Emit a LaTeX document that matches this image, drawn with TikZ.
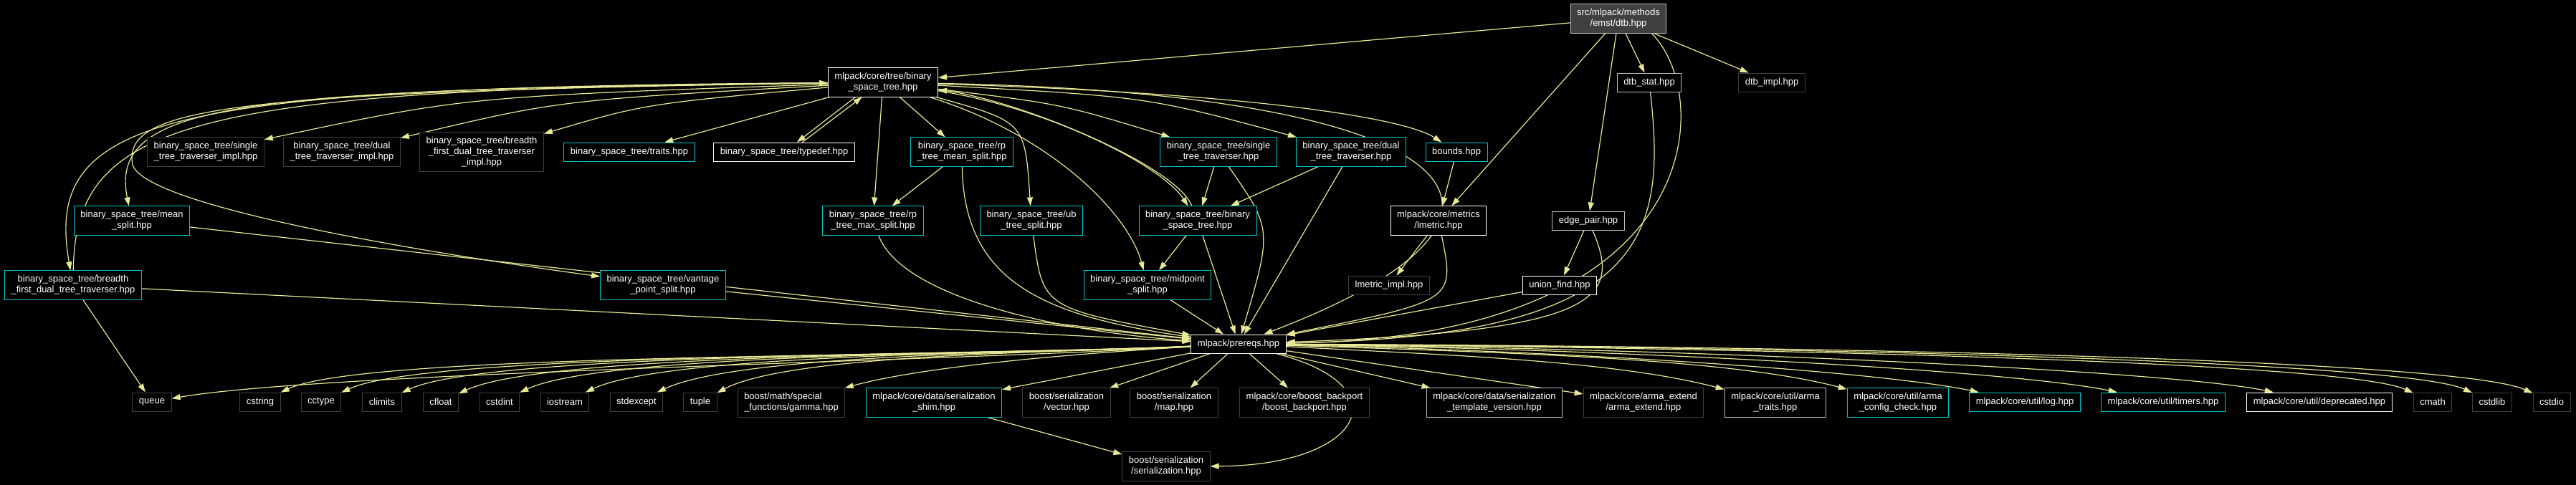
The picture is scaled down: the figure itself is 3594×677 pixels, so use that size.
\documentclass[tikz,border=0pt]{standalone}
\usepackage{fontspec}
\setmainfont{Liberation Sans}
\usetikzlibrary{arrows.meta}
\definecolor{edgecol}{RGB}{232,232,150}
\definecolor{doccol}{RGB}{0,200,200}
\definecolor{midgray}{RGB}{190,190,190}
\definecolor{dimgray}{RGB}{64,64,64}
\definecolor{rootfill}{RGB}{64,64,64}
\pgfdeclarelayer{bg}
\pgfsetlayers{bg,main}
\begin{document}
\begin{tikzpicture}[x=1pt,y=1pt,
  file/.style={fill=black, text=white, line width=1pt, inner xsep=9pt, inner ysep=6.5pt,
    minimum height=26pt, align=center, font=\fontsize{13}{15}\selectfont},
  cbox/.style={file, draw=doccol},
  wbox/.style={file, draw=white},
  gbox/.style={file, draw=midgray},
  xbox/.style={file, draw=dimgray},
  dep/.style={draw=edgecol, line width=1.2pt, -{Triangle[length=12pt,width=8pt]}}]
  \useasboundingbox (0,0) rectangle (3594,-677);

  \node[gbox, fill=rootfill] (dtb) at (2258,-26) {src/mlpack/methods\\/emst/dtb.hpp};
  \node[wbox] (bst) at (1232,-115) {mlpack/core/tree/binary\\\_space\_tree.hpp};
  \node[gbox] (dtbstat) at (2301,-115) {dtb\_stat.hpp};
  \node[xbox] (dtbimpl) at (2472,-115) {dtb\_impl.hpp};

  \node[xbox] (stimpl) at (287,-212) {binary\_space\_tree/single\\\_tree\_traverser\_impl.hpp};
  \node[xbox] (dtimpl) at (477,-212) {binary\_space\_tree/dual\\\_tree\_traverser\_impl.hpp};
  \node[xbox] (bfimpl) at (672,-212) {binary\_space\_tree/breadth\\\_first\_dual\_tree\_traverser\\\_impl.hpp};
  \node[cbox] (traits) at (878,-212) {binary\_space\_tree/traits.hpp};
  \node[wbox] (typedef) at (1094,-212) {binary\_space\_tree/typedef.hpp};
  \node[cbox] (rpmean) at (1342,-212) {binary\_space\_tree/rp\\\_tree\_mean\_split.hpp};
  \node[cbox] (stt) at (1700,-212) {binary\_space\_tree/single\\\_tree\_traverser.hpp};
  \node[cbox] (dtt) at (1885,-212) {binary\_space\_tree/dual\\\_tree\_traverser.hpp};
  \node[cbox] (bounds) at (2032,-212) {bounds.hpp};

  \node[cbox] (meansplit) at (184,-308) {binary\_space\_tree/mean\\\_split.hpp};
  \node[cbox] (rpmax) at (1218,-308) {binary\_space\_tree/rp\\\_tree\_max\_split.hpp};
  \node[cbox] (ubsplit) at (1439,-308) {binary\_space\_tree/ub\\\_tree\_split.hpp};
  \node[cbox] (bstimpl) at (1671,-308) {binary\_space\_tree/binary\\\_space\_tree.hpp};
  \node[wbox] (lmetric) at (2007,-308) {mlpack/core/metrics\\/lmetric.hpp};
  \node[gbox] (edgepair) at (2216,-308) {edge\_pair.hpp};

  \node[cbox] (bfdtt) at (102,-398) {binary\_space\_tree/breadth\\\_first\_dual\_tree\_traverser.hpp};
  \node[cbox] (vantage) at (925,-398) {binary\_space\_tree/vantage\\\_point\_split.hpp};
  \node[cbox] (midpoint) at (1601,-398) {binary\_space\_tree/midpoint\\\_split.hpp};
  \node[xbox] (lmimpl) at (1938,-398) {lmetric\_impl.hpp};
  \node[wbox] (unionfind) at (2176,-398) {union\_find.hpp};

  \node[wbox] (prereqs) at (1728,-480) {mlpack/prereqs.hpp};

  \node[xbox] (queue) at (212,-561) {queue};
  \node[xbox] (cstring) at (363,-561) {cstring};
  \node[xbox] (cctype) at (448,-561) {cctype};
  \node[xbox] (climits) at (533,-561) {climits};
  \node[xbox] (cfloat) at (615,-561) {cfloat};
  \node[xbox] (cstdint) at (697,-561) {cstdint};
  \node[xbox] (iostream) at (788,-561) {iostream};
  \node[xbox] (stdexcept) at (888,-561) {stdexcept};
  \node[xbox] (tuple) at (977,-561) {tuple};
  \node[xbox, align=left] (gamma) at (1104,-562) {boost/math/special\\\_functions/gamma.hpp};
  \node[cbox] (shim) at (1303,-562) {mlpack/core/data/serialization\\\_shim.hpp};
  \node[xbox] (vector) at (1488,-562) {boost/serialization\\/vector.hpp};
  \node[xbox] (map) at (1638,-562) {boost/serialization\\/map.hpp};
  \node[xbox] (backport) at (1820,-562) {mlpack/core/boost\_backport\\/boost\_backport.hpp};
  \node[gbox] (tmplver) at (2085,-562) {mlpack/core/data/serialization\\\_template\_version.hpp};
  \node[xbox] (armaext) at (2293,-562) {mlpack/core/arma\_extend\\/arma\_extend.hpp};
  \node[gbox] (armatraits) at (2477,-562) {mlpack/core/util/arma\\\_traits.hpp};
  \node[cbox] (armacfg) at (2648,-562) {mlpack/core/util/arma\\\_config\_check.hpp};
  \node[cbox] (logh) at (2825,-561) {mlpack/core/util/log.hpp};
  \node[cbox] (timersh) at (3018,-561) {mlpack/core/util/timers.hpp};
  \node[wbox] (deprecated) at (3236,-561) {mlpack/core/util/deprecated.hpp};
  \node[xbox] (cmath) at (3394,-561) {cmath};
  \node[xbox] (cstdlib) at (3477,-561) {cstdlib};
  \node[xbox] (cstdio) at (3560,-561) {cstdio};
  \node[xbox] (serial) at (1627,-651) {boost/serialization\\/serialization.hpp};

  \begin{pgfonlayer}{bg}
  \fill[black] (0,0) rectangle (3594,-677);
  \draw[dep] (dtb) -- (bst);
  \draw[dep] (dtb) -- (dtbstat);
  \draw[dep] (dtb) -- (dtbimpl);
  \draw[dep] (dtb) -- (lmetric);
  \draw[dep] (dtb) -- (edgepair);
  \draw[dep] (dtb.-24) .. controls (2390,-130) and (2390,-470) .. (prereqs);
  \draw[dep] (dtbstat) .. controls (2325,-330) and (2300,-470) .. (prereqs);
  \draw[dep] (lmetric) -- (lmimpl);
  \draw[dep] (lmetric) .. controls (2030,-420) .. (prereqs);
  \draw[dep] (bounds) -- (lmetric);
  \draw[dep] (edgepair) -- (unionfind);
  \draw[dep] (edgepair) .. controls (2265,-420) and (2225,-462) .. (prereqs);
  \draw[dep] (unionfind) -- (prereqs);
  \draw[dep] (dtt) -- (bstimpl);
  \draw[dep] (dtt) -- (prereqs);
  \draw[dep] (stt) -- (bstimpl);
  \draw[dep] (stt) .. controls (1775,-320) .. (prereqs);
  \draw[dep] (bstimpl) -- (midpoint);
  \draw[dep] (bstimpl) -- (prereqs);
  \draw[dep] (bstimpl) .. controls (1640,-230) and (1420,-140) .. (bst);
  \draw[dep] (midpoint) -- (prereqs);
  \draw[dep] (rpmean) -- (rpmax);
  \draw[dep] (rpmean) .. controls (1345,-390) and (1450,-440) .. (prereqs);
  \draw[dep] (rpmax) .. controls (1260,-420) and (1500,-465) .. (prereqs);
  \draw[dep] (ubsplit) .. controls (1455,-430) .. (prereqs);
  \draw[dep] (bst) .. controls (1460,-150) and (1620,-230) .. (bstimpl);
  \draw[dep] (bst) .. controls (1470,-190) and (1575,-300) .. (midpoint);
  \draw[dep] (bst) .. controls (1430,-170) .. (ubsplit);
  \draw[dep] (bst) -- (rpmax);
  \draw[dep] (bst) -- (rpmean);
  \draw[dep] (bst.208) -- (typedef.37);
  \draw[dep] (typedef.28) -- (bst.215);
  \draw[dep] (bst) -- (traits);
  \draw[dep] (bst) .. controls (1480,-145) .. (stt);
  \draw[dep] (bst) .. controls (1600,-135) .. (dtt);
  \draw[dep] (bst) .. controls (1750,-130) and (1960,-165) .. (bounds);
  \draw[dep] (bst) .. controls (2060,-130) and (2200,-300) .. (prereqs);
  \draw[dep] (bst) .. controls (650,-135) .. (stimpl);
  \draw[dep] (bst) .. controls (780,-140) .. (dtimpl);
  \draw[dep] (bst) .. controls (900,-145) .. (bfimpl);
  \draw[dep] (bst) .. controls (350,-125) and (150,-140) .. (meansplit);
  \draw[dep] (bst) .. controls (230,-122) and (60,-160) .. (bfdtt);
  \draw[dep] (bfdtt) .. controls (105,-170) and (260,-124) .. (bst);
  \draw[dep] (bst) .. controls (320,-128) and (170,-150) .. (185,-230)
    .. controls (200,-280) and (500,-340) .. (vantage);
  \draw[dep] (bfdtt) -- (prereqs);
  \draw[dep] (bfdtt) -- (queue);
  \draw[dep] (meansplit) -- (prereqs);
  \draw[dep] (vantage) -- (prereqs);

  \draw[dep] (prereqs) .. controls (1300,-505) and (450,-520) .. (queue);
  \draw[dep] (prereqs) .. controls (1330,-500) and (513,-491) .. (cstring);
  \draw[dep] (prereqs) .. controls (1360,-498) and (598,-491) .. (cctype);
  \draw[dep] (prereqs) .. controls (1390,-496) and (683,-491) .. (climits);
  \draw[dep] (prereqs) .. controls (1420,-495) and (765,-491) .. (cfloat);
  \draw[dep] (prereqs) .. controls (1450,-494) and (847,-491) .. (cstdint);
  \draw[dep] (prereqs) .. controls (1480,-493) and (938,-491) .. (iostream);
  \draw[dep] (prereqs) .. controls (1510,-492) and (1038,-491) .. (stdexcept);
  \draw[dep] (prereqs) .. controls (1540,-491) and (1107,-491) .. (tuple);
  \draw[dep] (prereqs) .. controls (1560,-490) and (1304,-507) .. (gamma);
  \draw[dep] (prereqs) -- (shim);
  \draw[dep] (prereqs) -- (vector);
  \draw[dep] (prereqs) -- (map);
  \draw[dep] (prereqs) -- (backport);
  \draw[dep] (prereqs) -- (tmplver);
  \draw[dep] (prereqs) -- (armaext);
  \draw[dep] (prereqs) .. controls (2000,-495) and (2247,-502) .. (armatraits);
  \draw[dep] (prereqs) .. controls (2100,-492) and (2413,-500) .. (armacfg);
  \draw[dep] (prereqs) .. controls (2200,-490) and (2625,-519) .. (logh);
  \draw[dep] (prereqs) .. controls (2300,-488) and (2818,-519) .. (timersh);
  \draw[dep] (prereqs) .. controls (2400,-487) and (3036,-519) .. (deprecated);
  \draw[dep] (prereqs) .. controls (2500,-486) and (3274,-506) .. (cmath);
  \draw[dep] (prereqs) .. controls (2600,-485) and (3357,-506) .. (cstdlib);
  \draw[dep] (prereqs) .. controls (2700,-484) and (3440,-506) .. (cstdio);
  \draw[dep] (prereqs) .. controls (1960,-540) and (1900,-650) .. (serial);
  \draw[dep] (shim) -- (serial);
  \end{pgfonlayer}
\end{tikzpicture}
\end{document}
